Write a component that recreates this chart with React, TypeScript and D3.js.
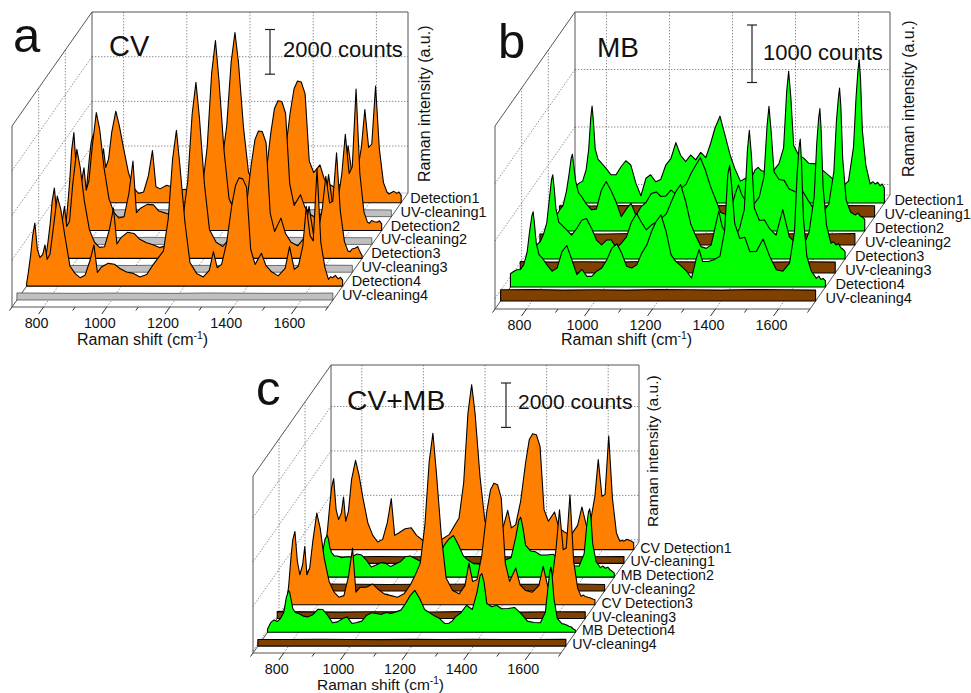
import React from "react";
import { area, curveLinear, scaleLinear, range } from "d3";

// raman shift grid for the CV spectra and for the MB spectra (cm-1)
const cvShifts = [700,706,713,719,726,734,742,751,758,765,774,784,797,808,821,837,853,869,885,900,913,924,937,958,978,995,1016,1038,1059,1080,1101,1117,1133,1148,1162,1174,1185,1201,1217,1238,1259,1278,1291,1303,1317,1333,1349,1361,1372,1384,1396,1409,1423,1443,1457,1475,1496,1518,1532,1547,1560,1574,1585,1597,1607,1619,1631,1644,1655,1662,1668,1677,1686,1693,1700];
const mbShifts = [700,711,721,732,742,753,761,768,772,776,782,791,801,816,832,848,864,879,895,911,927,943,958,974,990,1006,1022,1038,1053,1069,1085,1101,1117,1133,1148,1162,1178,1194,1210,1225,1243,1259,1275,1289,1299,1310,1328,1346,1365,1380,1390,1396,1403,1412,1428,1444,1460,1481,1502,1523,1544,1565,1586,1602,1610,1616,1620,1624,1630,1641,1655,1663,1671,1679,1686,1693,1700];
const uvShifts = [700,800,900,1000,1100,1200,1300,1400,1500,1600,1700];

// panel a, CV
const aDetection1 = [225,900,1950,2700,3075,1950,1650,1800,2415,1575,1950,3150,4095,3450,2475,1350,660,420,480,1200,2340,720,620,780,690,540,600,450,510,420,900,1350,1800,3450,6300,7620,6300,3375,1350,800,590,930,2025,1050,1200,2250,4050,5100,5445,5400,4875,1875,1350,1695,1050,800,640,1000,2550,1050,1275,2475,4170,2475,2625,5220,2400,900,480,390,450,510,420,480,330];
const aDetection2 = [180,1050,2250,3600,4380,2700,2025,2250,2805,1800,2250,3750,5280,4500,2850,1425,800,560,620,1650,3105,800,1000,1170,1150,870,780,650,520,640,1050,1500,1950,3750,7050,8505,6750,3600,1425,800,590,940,2025,1125,1275,2400,4350,5475,5805,5775,5250,2100,1125,1605,1050,720,530,910,2505,900,1200,2550,4305,2550,2850,6330,2550,825,375,330,450,390,375,435,300];
const aDetection3 = [150,750,1575,2550,3150,1950,1500,1650,2325,1425,1650,3300,4875,4050,2550,1275,720,490,520,1275,2250,640,930,1170,1115,870,710,610,480,570,975,1350,1800,3450,6450,7875,6300,3300,1275,720,530,860,1875,1050,1200,2250,4200,5325,5700,5670,5175,2025,1200,1800,1125,720,560,940,2325,975,1125,2250,3675,2475,2550,4725,2100,750,330,300,420,450,525,300,120];
const aDetection4 = [120,675,1425,2250,2820,1650,1275,1425,1845,1200,1425,2550,4020,3450,2250,900,570,380,490,1125,1845,610,860,1020,980,790,630,570,410,520,975,1275,1575,3000,5700,6975,5400,2850,1050,570,410,710,1545,825,975,1950,3600,4500,4845,4800,4425,1650,975,1470,930,640,460,790,1770,750,900,1800,3570,2250,2025,5250,1950,825,300,420,375,480,330,390,270];
const aCleaning1 = [310,300,320,305,310,300,315,305,320,310,300];
const aCleaning2 = [300,310,305,320,300,310,300,320,310,305,300];
const aCleaning3 = [305,300,310,300,320,305,310,300,305,320,310];
const aCleaning4 = [320,310,300,315,305,300,320,310,300,305,315];

// panel b, MB
const bDetection1 = [260,320,300,350,380,575,920,1495,1685,1440,940,760,700,605,490,490,630,735,660,345,125,430,490,370,410,660,770,1050,830,720,835,750,880,790,1030,1300,1510,1180,840,600,380,430,400,570,620,560,540,550,680,960,1955,2290,1840,1000,830,780,690,680,580,480,380,280,380,975,1840,2300,2490,2185,1265,660,330,370,330,360,300,330,260];
const bDetection2 = [230,340,270,370,440,690,975,1265,1335,1150,880,670,600,470,370,380,710,860,700,500,250,380,480,270,420,500,650,680,600,610,710,640,740,815,995,1130,1275,1060,780,570,320,285,380,650,800,625,470,450,590,940,1840,2170,1725,1030,895,880,730,680,700,510,330,305,470,1035,1900,2300,2485,2185,1265,540,330,300,280,310,260,240,200];
const bDetection3 = [170,215,245,300,420,630,1035,1380,1465,1265,880,640,590,505,415,530,675,705,535,330,245,330,330,185,275,385,645,790,645,505,590,645,705,790,990,1165,1295,1000,610,415,215,185,245,590,835,560,390,330,535,860,1900,2240,1780,885,670,680,530,415,860,385,275,185,475,1090,2010,2445,2615,2240,1265,590,275,300,245,270,200,170,130];
const bDetection4 = [230,275,300,305,385,605,975,1235,1310,1120,760,560,505,385,275,330,620,720,475,215,305,185,185,275,330,475,675,750,590,360,330,385,590,730,965,1135,1255,970,560,445,360,275,155,475,650,445,445,475,535,975,1955,2115,1725,1105,845,865,615,620,835,535,300,275,415,975,1955,2415,2575,2185,1205,535,275,215,150,190,130,150,105];
const bCleaning1 = [195,190,200,190,195,200,190,195,190,200,195];
const bCleaning2 = [190,195,190,200,195,190,200,190,195,190,200];
const bCleaning3 = [200,190,195,190,200,195,190,200,190,195,190];
const bCleaning4 = [195,200,190,195,190,200,195,190,200,195,190];

// panel c, CV+MB
const cCvDetection1 = [225,900,1950,2775,3195,1800,1350,1650,2370,1275,1725,3150,4020,3375,2325,1200,640,340,460,1200,2295,640,750,940,980,640,410,420,340,490,675,1050,1425,3000,6150,7425,6150,3300,1275,940,710,1090,1770,975,1125,2175,3900,4950,5220,5175,4650,1800,1275,1695,975,790,640,1090,1920,1050,1275,2400,4050,2400,2475,5115,2325,750,375,420,375,460,420,380,300];
const cMbDetection2 = [150,375,525,480,675,1125,1725,1875,1725,1350,1100,955,950,880,920,910,1040,1000,770,460,545,655,620,475,590,700,920,955,845,730,800,805,920,1030,1445,1705,1875,1445,955,770,610,590,505,590,655,740,730,770,880,1800,2550,2700,2250,1445,1180,1145,1000,995,1030,770,550,500,505,1050,2250,2925,3075,2700,1500,695,430,500,400,450,330,270,180];
const cCvDetection3 = [180,900,2100,2925,3300,1950,1350,1800,2625,1350,1650,2850,4125,3450,2100,1050,570,340,410,1275,2550,570,780,790,935,710,490,410,340,490,900,1350,1875,3600,6450,7725,6000,3150,1200,640,490,860,1875,1050,1125,2250,4200,5175,5475,5400,4800,1875,1050,1650,900,640,560,860,1725,825,1050,2550,4275,2475,2550,4950,1950,750,375,440,375,340,300,260,225];
const cMbDetection4 = [150,450,560,490,620,900,1575,1875,1800,1500,1070,880,845,730,695,805,1040,1030,770,430,470,610,695,400,440,505,770,880,845,805,890,850,920,1000,1295,1630,1890,1520,1030,890,730,620,400,410,505,695,880,1220,1030,1800,2550,2640,2250,1295,1150,1220,1060,1070,1120,845,505,440,430,900,1950,2700,2940,2550,1500,620,400,370,330,270,240,150,90];
const cCleaning1 = [300,290,310,300,295,310,300,290,305,300,310];
const cCleaning2 = [295,310,300,290,305,300,310,295,300,310,290];
const cCleaning3 = [310,300,290,305,300,295,310,300,290,305,300];
const cCleaning4 = [300,295,310,300,290,305,300,310,295,300,305];

const majorTicks = [800, 1000, 1200, 1400, 1600];
const minorTicks = [700, 900, 1100, 1300, 1500, 1700];

const ORANGE = "#ff8000";
const GREEN = "#00ff00";
const GRAY = "#c0c0c0";
const BROWN = "#804000";
const FONT = "'Liberation Sans', Arial, sans-serif";

type Series = { name: string; fill: string; shifts: number[]; values: number[] };

// listed front to back
const panelASeries: Series[] = [
  { name: "UV-cleaning4", fill: GRAY, shifts: uvShifts, values: aCleaning4 },
  { name: "Detection4", fill: ORANGE, shifts: cvShifts, values: aDetection4 },
  { name: "UV-cleaning3", fill: GRAY, shifts: uvShifts, values: aCleaning3 },
  { name: "Detection3", fill: ORANGE, shifts: cvShifts, values: aDetection3 },
  { name: "UV-cleaning2", fill: GRAY, shifts: uvShifts, values: aCleaning2 },
  { name: "Detection2", fill: ORANGE, shifts: cvShifts, values: aDetection2 },
  { name: "UV-cleaning1", fill: GRAY, shifts: uvShifts, values: aCleaning1 },
  { name: "Detection1", fill: ORANGE, shifts: cvShifts, values: aDetection1 },
];
const panelBSeries: Series[] = [
  { name: "UV-cleaning4", fill: BROWN, shifts: uvShifts, values: bCleaning4 },
  { name: "Detection4", fill: GREEN, shifts: mbShifts, values: bDetection4 },
  { name: "UV-cleaning3", fill: BROWN, shifts: uvShifts, values: bCleaning3 },
  { name: "Detection3", fill: GREEN, shifts: mbShifts, values: bDetection3 },
  { name: "UV-cleaning2", fill: BROWN, shifts: uvShifts, values: bCleaning2 },
  { name: "Detection2", fill: GREEN, shifts: mbShifts, values: bDetection2 },
  { name: "UV-cleaning1", fill: BROWN, shifts: uvShifts, values: bCleaning1 },
  { name: "Detection1", fill: GREEN, shifts: mbShifts, values: bDetection1 },
];
const panelCSeries: Series[] = [
  { name: "UV-cleaning4", fill: BROWN, shifts: uvShifts, values: cCleaning4 },
  { name: "MB Detection4", fill: GREEN, shifts: mbShifts, values: cMbDetection4 },
  { name: "UV-cleaning3", fill: BROWN, shifts: uvShifts, values: cCleaning3 },
  { name: "CV Detection3", fill: ORANGE, shifts: cvShifts, values: cCvDetection3 },
  { name: "UV-cleaning2", fill: BROWN, shifts: uvShifts, values: cCleaning2 },
  { name: "MB Detection2", fill: GREEN, shifts: mbShifts, values: cMbDetection2 },
  { name: "UV-cleaning1", fill: BROWN, shifts: uvShifts, values: cCleaning1 },
  { name: "CV Detection1", fill: ORANGE, shifts: cvShifts, values: cCvDetection1 },
];

const panels = [
  {
    letter: "a", letterX: 13, letterY: 52, title: "CV", titleX: 109, titleY: 56, titleSize: 29,
    barCounts: 2000, barLabel: "2000 counts", barX: 270, barTop: 29.5, barLabelX: 283, barLabelY: 57, barLabelSize: 22,
    left: 12, right: 328, floor: 307, floorBack: 193, top: 12, dx: 80,
    depthDomain: [-0.5, 7.7], counts: [-100, 8000], grid: [2000, 4000, 6000],
    labelSize: 14.5, labelDx: 9, labelDy: 0, axisLabelX: 77, axisLabelY: 345, axisLabelSize: 16,
    sideX: 424, sideY: 182, sideSize: 16, series: panelASeries,
  },
  {
    letter: "b", letterX: 498, letterY: 58, title: "MB", titleX: 597, titleY: 57, titleSize: 28,
    barCounts: 1000, barLabel: "1000 counts", barX: 752, barTop: 25, barLabelX: 763, barLabelY: 60, barLabelSize: 22,
    left: 495, right: 810, floor: 309, floorBack: 195, top: 12, dx: 80,
    depthDomain: [-0.57, 7.57], counts: [-183, 3000], grid: [0, 1000, 2000],
    labelSize: 14.5, labelDx: 10, labelDy: 2, axisLabelX: 561, axisLabelY: 345, axisLabelSize: 16,
    sideX: 908, sideY: 177, sideSize: 16, series: panelBSeries,
  },
  {
    letter: "c", letterX: 256, letterY: 405, title: "CV+MB", titleX: 347, titleY: 410, titleSize: 28.3,
    barCounts: 2000, barLabel: "2000 counts", barX: 506, barTop: 383, barLabelX: 518, barLabelY: 409, barLabelSize: 21,
    left: 253, right: 561, floor: 653, floorBack: 542, top: 365, dx: 78,
    depthDomain: [-0.5, 7.55], counts: [-100, 7870], grid: [0, 2000, 4000, 6000],
    labelSize: 14.2, labelDx: 6.5, labelDy: 3, axisLabelX: 317, axisLabelY: 690, axisLabelSize: 15.5,
    sideX: 653, sideY: 527, sideSize: 15.5, series: panelCSeries,
  },
];

const Panel = ({ p }: { p: (typeof panels)[number] }) => {
  const x = scaleLinear().domain([700, 1700]).range([p.left, p.right]);
  const y = scaleLinear().domain(p.counts).range([p.floorBack, p.top]);
  const depth = scaleLinear().domain(p.depthDomain).range([0, 1]);
  const dy = p.floor - p.floorBack;
  const wallTop = p.floor - (p.floorBack - p.top);
  const px = (s: number, t: number) => x(s) + p.dx * t;
  const base = (t: number) => p.floor - dy * t;
  const lift = (c: number) => y(0) - y(c);
  const grid = { stroke: "#808080", strokeWidth: 0.9, strokeDasharray: "1.4 1.6", fill: "none" };
  const frame = { stroke: "#555", strokeWidth: 1, fill: "none" };
  const barBottom = p.barTop + lift(p.barCounts);

  return (
    <g fontFamily={FONT} fill="#111">
      {/* walls */}
      {p.grid.map((c) => (
        <g key={c} {...grid}>
          <line x1={p.left + p.dx} x2={p.right + p.dx} y1={y(c)} y2={y(c)} />
          <line x1={p.left} x2={p.left + p.dx} y1={y(c) + dy} y2={y(c)} />
        </g>
      ))}
      {majorTicks.map((s) => (
        <g key={s} {...grid}>
          <line x1={px(s, 1)} x2={px(s, 1)} y1={p.top} y2={p.floorBack} />
          <line x1={px(s, 0)} x2={px(s, 1)} y1={p.floor} y2={p.floorBack} />
        </g>
      ))}
      {range(1, 3).map((i) => (
        <line key={i} {...grid} x1={p.left + (p.dx * i) / 3} x2={p.left + (p.dx * i) / 3}
          y1={wallTop - (dy * i) / 3} y2={p.floor - (dy * i) / 3} />
      ))}
      <path {...frame}
        d={`M${p.left},${p.floor}V${wallTop}L${p.left + p.dx},${p.top}H${p.right + p.dx}V${p.floorBack}L${p.right},${p.floor}H${p.left}L${p.left + p.dx},${p.floorBack}V${p.top}`} />
      <line {...frame} x1={p.left + p.dx} x2={p.right + p.dx} y1={p.floorBack} y2={p.floorBack} strokeOpacity={0.35} />

      {/* spectra, back to front */}
      {[...p.series].reverse().map((s) => {
        const t = depth(p.series.indexOf(s));
        const shape = area<number>()
          .x((v, i) => px(s.shifts[i], t))
          .y0(base(t))
          .y1((v) => base(t) - lift(v))
          .curve(curveLinear);
        return (
          <g key={s.name}>
            <path d={shape(s.values) ?? ""} fill={s.fill} stroke="#000" strokeWidth={s.fill === GRAY ? 0.5 : 1.1} strokeLinejoin="round" />
            <text x={p.right + p.dx * t + p.labelDx} y={base(t) + p.labelDy} fontSize={p.labelSize}>{s.name}</text>
          </g>
        );
      })}

      {/* x axis */}
      {majorTicks.map((s) => (
        <g key={s}>
          <line x1={x(s)} x2={x(s) - 5} y1={p.floor} y2={p.floor + 7} stroke="#333" />
          <text x={x(s) - 7} y={p.floor + 21} textAnchor="middle" fontSize={14.3}>{s}</text>
        </g>
      ))}
      {minorTicks.map((s) => (
        <line key={s} x1={x(s)} x2={x(s) - 2.5} y1={p.floor} y2={p.floor + 3.5} stroke="#333" />
      ))}
      <text x={p.axisLabelX} y={p.axisLabelY} fontSize={p.axisLabelSize}>
        Raman shift (cm<tspan dy={-6} fontSize={p.axisLabelSize * 0.65}>-1</tspan><tspan dy={6}>)</tspan>
      </text>
      <text transform={`translate(${p.sideX},${p.sideY}) rotate(-90)`} dy="0.35em" fontSize={p.sideSize}>Raman intensity (a.u.)</text>

      {/* annotations */}
      <text x={p.letterX} y={p.letterY} fontSize={49}>{p.letter}</text>
      <text x={p.titleX} y={p.titleY} fontSize={p.titleSize}>{p.title}</text>
      <g stroke="#222" strokeWidth={1.2}>
        <line x1={p.barX} x2={p.barX} y1={p.barTop} y2={barBottom} />
        <line x1={p.barX - 5} x2={p.barX + 5} y1={p.barTop} y2={p.barTop} />
        <line x1={p.barX - 5} x2={p.barX + 5} y1={barBottom} y2={barBottom} />
      </g>
      <text x={p.barLabelX} y={p.barLabelY} fontSize={p.barLabelSize}>{p.barLabel}</text>
    </g>
  );
};

export default function App() {
  return (
    <svg width={971} height={693} viewBox="0 0 971 693"
      style={{ position: "absolute", left: 0, top: 0, display: "block", background: "#fff" }}>
      {panels.map((p) => (
        <Panel key={p.letter} p={p} />
      ))}
    </svg>
  );
}
